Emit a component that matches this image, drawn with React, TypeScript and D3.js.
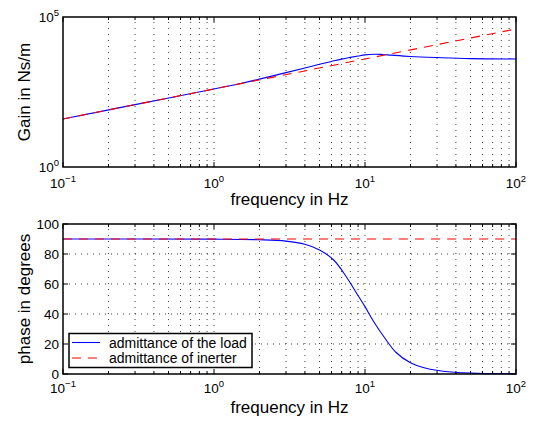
import React from "react";
import * as d3 from "d3";

// ---- data ----
const gainFreq = [0.1, 0.3, 1, 1.5, 2, 3, 4, 5, 6, 7, 8, 9, 10, 11.5, 13, 15, 20, 30, 50, 100];
const loadGain = [40, 120, 400, 610, 850, 1400, 2000, 2650, 3300, 3950, 4500, 5000, 5450, 5750, 5650, 5350, 4850, 4450, 4100, 4000];
const inerterFreq = [0.1, 1, 10, 100];
const inerterGain = [40, 400, 4000, 40000];

const phaseFreq = [0.1, 1, 2, 3, 4, 5, 6.2, 7.5, 8.8, 10, 11.4, 13.3, 16, 20, 25, 33, 50, 100];
const loadPhase = [90, 89.9, 89.5, 88.6, 86.5, 82.7, 76, 65, 53.8, 44.9, 35, 25, 14.5, 7.5, 4, 1.8, 0.6, 0.1];
const inerterPhase = [90, 90, 90, 90];

const xMajor = [0.1, 1, 10, 100];
const xMajorExp = ["−1", "0", "1", "2"];
const gainTicks = [1, 1e5];
const gainTickExp = ["0", "5"];
const phaseTicks = [0, 20, 40, 60, 80, 100];

const legendLabels = ["admittance of the load", "admittance of inerter"];
const xLabel = "frequency in Hz";
const gainLabel = "Gain in Ns/m";
const phaseLabel = "phase in degrees";

const FONT = "'Liberation Sans', Arial, Helvetica, sans-serif";

export default function App() {
  const W = 533, H = 424;
  const L = 63, R = 516;
  const t1 = 17, b1 = 167, t2 = 224, b2 = 374;

  const x = d3.scaleLog().domain([0.1, 100]).range([L, R]);
  const yG = d3.scaleLog().domain([1, 1e5]).range([b1, t1]);
  const yP = d3.scaleLinear().domain([0, 100]).range([b2, t2]);

  const minor: number[] = [];
  [0.1, 1, 10].forEach((d) => {
    for (let k = 2; k <= 9; k++) minor.push(k * d);
  });
  const gridX = [...minor, 1, 10];

  const lineGen = d3.line<[number, number]>().curve(d3.curveCatmullRom.alpha(0.5));
  const loadGainPath = lineGen(gainFreq.map((f, i) => [x(f), yG(loadGain[i])] as [number, number]));
  const inerterGainPath = lineGen(inerterFreq.map((f, i) => [x(f), yG(inerterGain[i])] as [number, number]));
  const loadPhasePath = lineGen(phaseFreq.map((f, i) => [x(f), yP(loadPhase[i])] as [number, number]));
  const inerterPhasePath = lineGen(inerterFreq.map((f, i) => [x(f), yP(inerterPhase[i])] as [number, number]));

  const gridStyle = { stroke: "#000", strokeWidth: 1, strokeDasharray: "1,5", opacity: 0.75 };
  const tickLen = 5, minorLen = 3;

  const xTicks = (top: number, bottom: number) => (
    <g stroke="#000" strokeWidth={1}>
      {xMajor.map((f) => (
        <g key={"M" + f}>
          <line x1={x(f)} x2={x(f)} y1={bottom} y2={bottom - tickLen} />
          <line x1={x(f)} x2={x(f)} y1={top} y2={top + tickLen} />
        </g>
      ))}
      {minor.map((f) => (
        <g key={"m" + f}>
          <line x1={x(f)} x2={x(f)} y1={bottom} y2={bottom - minorLen} />
          <line x1={x(f)} x2={x(f)} y1={top} y2={top + minorLen} />
        </g>
      ))}
    </g>
  );

  const xTickLabels = (bottom: number, dy: number) =>
    xMajor.map((f, i) => (
      <text key={"xl" + f} x={x(f)} y={bottom + dy} textAnchor="middle" fontSize={13.5} fontFamily={FONT}>
        <tspan>10</tspan>
        <tspan dy={-6} fontSize={9.5}>{xMajorExp[i]}</tspan>
      </text>
    ));

  return (
    <svg width={W} height={H} style={{ position: "absolute", left: 0, top: 0, background: "#fff" }}>
      <rect x={0} y={0} width={W} height={H} fill="#fff" />

      {/* ---------- top plot ---------- */}
      <g>
        {gridX.map((f) => (
          <line key={"g1" + f} x1={x(f)} x2={x(f)} y1={b1} y2={t1} style={gridStyle} />
        ))}
        <path d={loadGainPath || ""} fill="none" stroke="#0000ff" strokeWidth={1.1} />
        <path d={inerterGainPath || ""} fill="none" stroke="#ff0000" strokeWidth={1.1} strokeDasharray="9,7" />
        {xTicks(t1, b1)}
        <rect x={L} y={t1} width={R - L} height={b1 - t1} fill="none" stroke="#000" strokeWidth={1.5} />
        {xTickLabels(b1, 21)}
        {gainTicks.map((v, i) => (
          <text key={"yg" + v} x={L - 4} y={yG(v) + 5} textAnchor="end" fontSize={13.5} fontFamily={FONT}>
            <tspan>10</tspan>
            <tspan dy={-6} fontSize={9.5}>{gainTickExp[i]}</tspan>
          </text>
        ))}
        <text x={(L + R) / 2} y={205} textAnchor="middle" fontSize={17} fontFamily={FONT}>{xLabel}</text>
        <text transform={`translate(30,${(t1 + b1) / 2}) rotate(-90)`} textAnchor="middle" fontSize={17} fontFamily={FONT}>{gainLabel}</text>
      </g>

      {/* ---------- bottom plot ---------- */}
      <g>
        {gridX.map((f) => (
          <line key={"g2" + f} x1={x(f)} x2={x(f)} y1={b2} y2={t2} style={gridStyle} />
        ))}
        {phaseTicks.filter((v) => v > 0 && v < 100).map((v) => (
          <line key={"h" + v} x1={L} x2={R} y1={yP(v)} y2={yP(v)} style={gridStyle} />
        ))}
        <path d={loadPhasePath || ""} fill="none" stroke="#0000ff" strokeWidth={1.1} />
        <path d={inerterPhasePath || ""} fill="none" stroke="#ff0000" strokeWidth={1.1} strokeDasharray="9,7" />
        {xTicks(t2, b2)}
        <g stroke="#000" strokeWidth={1}>
          {phaseTicks.map((v) => (
            <g key={"pt" + v}>
              <line x1={L} x2={L + tickLen} y1={yP(v)} y2={yP(v)} />
              <line x1={R} x2={R - tickLen} y1={yP(v)} y2={yP(v)} />
            </g>
          ))}
        </g>
        <rect x={L} y={t2} width={R - L} height={b2 - t2} fill="none" stroke="#000" strokeWidth={1.5} />
        {xTickLabels(b2, 19)}
        {phaseTicks.map((v) => (
          <text key={"yp" + v} x={L - 4} y={yP(v) + 5} textAnchor="end" fontSize={13.5} fontFamily={FONT}>{v}</text>
        ))}
        <text x={(L + R) / 2} y={413} textAnchor="middle" fontSize={17} fontFamily={FONT}>{xLabel}</text>
        <text transform={`translate(30,${(t2 + b2) / 2}) rotate(-90)`} textAnchor="middle" fontSize={17} fontFamily={FONT}>{phaseLabel}</text>

        {/* legend */}
        <rect x={69} y={333.5} width={183} height={34} fill="#fff" stroke="#000" strokeWidth={1.5} />
        <line x1={72} x2={100} y1={342.5} y2={342.5} stroke="#0000ff" strokeWidth={1.1} />
        <line x1={72} x2={100} y1={358} y2={358} stroke="#ff0000" strokeWidth={1.1} strokeDasharray="9,7" />
        <text x={109} y={347.5} fontSize={14} fontFamily={FONT}>{legendLabels[0]}</text>
        <text x={109} y={363} fontSize={14} fontFamily={FONT}>{legendLabels[1]}</text>
      </g>
    </svg>
  );
}
